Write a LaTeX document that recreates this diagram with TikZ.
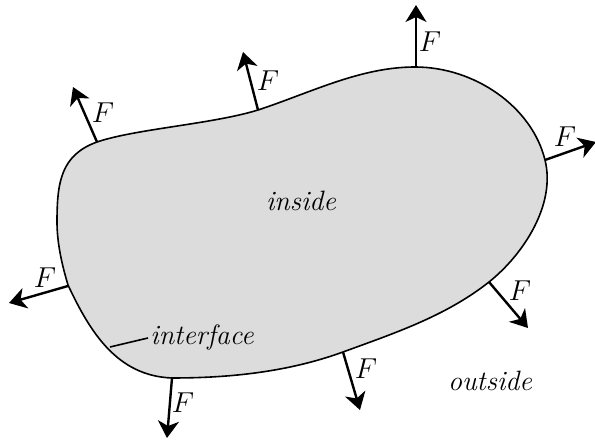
\documentclass[tikz,border=0pt]{standalone}
\usepackage{tikz}
\usetikzlibrary{arrows.meta,positioning,calc}
\definecolor{blobgray}{HTML}{DCDCDC}
\tikzset{
  blob/.style={draw,line width=0.8pt,fill=blobgray},
  fe/.style={-{Stealth[length=8.5pt,width=10.5pt,inset=2.5pt]},line width=1.2pt},
  flab/.style={inner sep=0pt,font=\fontsize{14}{16}\selectfont},
  tlab/.style={inner sep=1pt,font=\fontsize{14}{16}\selectfont\itshape}
}
\begin{document}
\begin{tikzpicture}[x=0.5pt,y=-0.5pt]
\useasboundingbox (0,0) rectangle (595,442);
% the body
\draw[blob] (415,67) .. controls (475,67) and (532,107) .. (545,160)
  .. controls (556,204) and (524,254) .. (489,282)
  .. controls (446,316) and (395,333) .. (343,352)
  .. controls (288,372) and (230,378) .. (172,378)
  .. controls (117,376) and (90,332) .. (68,285)
  .. controls (62,265) and (57,243) .. (57,222)
  .. controls (57,182) and (61,155) .. (97,142)
  .. controls (135,129) and (213,124) .. (258,110)
  .. controls (310,93) and (360,67) .. cycle;
% bases and tips of the forces
\coordinate (b1) at (416,67);  \coordinate (t1) at (416,5);
\coordinate (b2) at (545,160); \coordinate (t2) at (596,142);
\coordinate (b3) at (258,110); \coordinate (t3) at (243,52);
\coordinate (b4) at (97,142);  \coordinate (t4) at (73,87);
\coordinate (b5) at (68,286);  \coordinate (t5) at (9,303);
\coordinate (b6) at (172,378); \coordinate (t6) at (167,438);
\coordinate (b7) at (343,352); \coordinate (t7) at (360,410);
\coordinate (b8) at (489,282); \coordinate (t8) at (528,328);
\foreach \i in {1,...,8} \draw[fe] (b\i) -- (t\i);
\node[flab] (F1) at (430,42) {$F$};
\node[flab] (F2) at (565,137) {$F$};
\node[flab] (F3) at (268,81) {$F$};
\node[flab] (F4) at (103,113) {$F$};
\node[flab] (F5) at (45,278) {$F$};
\node[flab] (F6) at (183,403) {$F$};
\node[flab] (F7) at (366,369) {$F$};
\node[flab] (F8) at (520,291) {$F$};
% texts
\node[tlab] (in) at (301,201) {inside};
\node[tlab] (out) at (490,381) {outside};
\node[tlab,anchor=west] (intf) at (148,338) {interface};
\coordinate (ib) at (110,347);
\draw[line width=0.8pt] (ib) -- (intf.west);
\end{tikzpicture}
\end{document}
